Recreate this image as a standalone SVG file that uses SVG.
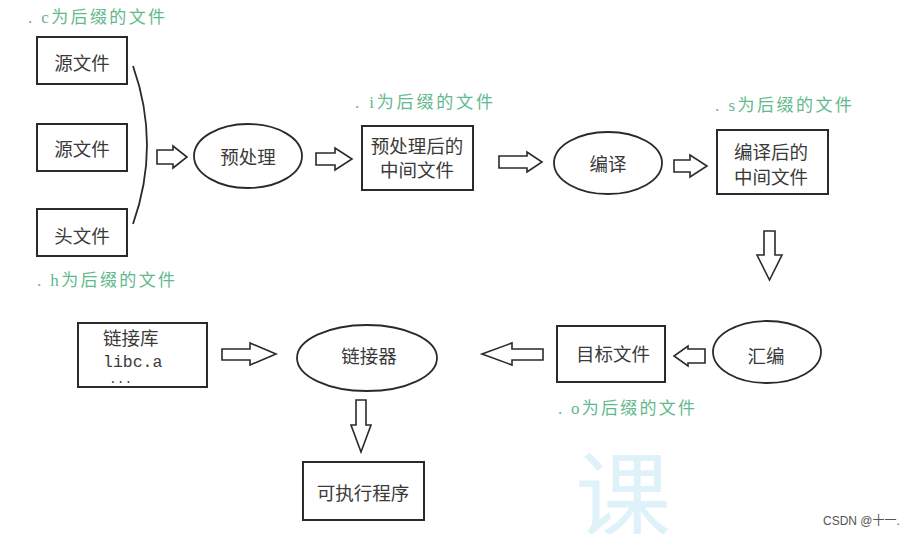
<svg xmlns="http://www.w3.org/2000/svg" width="915" height="534" viewBox="0 0 915 534">
<style>
.box{fill:#fff;stroke:#2a2a2a;stroke-width:2}
.ell{fill:#fff;stroke:#2a2a2a;stroke-width:1.8}
.arr{fill:#fff;stroke:#2a2a2a;stroke-width:1.6;stroke-linejoin:miter}
.lbl{font-family:"Noto Sans CJK SC",sans-serif;font-size:18.5px;fill:#3a3a3a;text-anchor:middle;dominant-baseline:central}
.grn{font-family:"Liberation Serif","Noto Sans CJK SC",serif;font-size:17px;fill:#62b98c}
.mono{font-family:"Liberation Mono","Noto Sans CJK SC",monospace;font-size:16.5px;fill:#3a3a3a}
</style>
<rect width="915" height="534" fill="#fff"/>
<text x="575" y="531" font-family="Noto Sans CJK SC,sans-serif" font-size="96" fill="#dff2fa">课</text>

<g id="label-c"><text class="grn" x="28" y="23" textLength="137" lengthAdjust="spacing">. c为后缀的文件</text></g>
<g id="label-h"><text class="grn" x="37" y="286" textLength="138" lengthAdjust="spacing">. h为后缀的文件</text></g>
<g id="label-i"><text class="grn" x="355" y="108" textLength="138" lengthAdjust="spacing">. i为后缀的文件</text></g>
<g id="label-s"><text class="grn" x="715" y="111" textLength="137" lengthAdjust="spacing">. s为后缀的文件</text></g>
<g id="label-o"><text class="grn" x="558" y="414" textLength="137" lengthAdjust="spacing">. o为后缀的文件</text></g>

<g id="src1"><rect class="box" x="37" y="37" width="90" height="47"/><text class="lbl" x="82" y="62">源文件</text></g>
<g id="src2"><rect class="box" x="37" y="124" width="90" height="47"/><text class="lbl" x="82" y="148">源文件</text></g>
<g id="hdr"><rect class="box" x="37" y="209" width="90" height="47"/><text class="lbl" x="82" y="235">头文件</text></g>

<g id="preprocess"><ellipse class="ell" cx="248" cy="156" rx="54" ry="32"/><text class="lbl" x="248" y="156">预处理</text></g>
<g id="pre-out"><rect class="box" x="362" y="126" width="111" height="64"/><text class="lbl" x="417" y="145">预处理后的</text><text class="lbl" x="417" y="169">中间文件</text></g>
<g id="compile"><ellipse class="ell" cx="608" cy="163" rx="54" ry="31"/><text class="lbl" x="608" y="163">编译</text></g>
<g id="comp-out"><rect class="box" x="717" y="130" width="111" height="64"/><text class="lbl" x="771" y="151">编译后的</text><text class="lbl" x="771" y="176">中间文件</text></g>
<g id="assemble"><ellipse class="ell" cx="767" cy="352" rx="54" ry="31"/><text class="lbl" x="766" y="355">汇编</text></g>
<g id="obj"><rect class="box" x="557" y="326" width="108" height="56"/><text class="lbl" x="613" y="353">目标文件</text></g>
<g id="linker"><ellipse class="ell" cx="367" cy="358" rx="70" ry="33"/><text class="lbl" x="369" y="355">链接器</text></g>
<g id="lib"><rect class="box" x="78" y="323" width="129" height="64"/><text class="lbl" x="103" y="337" style="text-anchor:start">链接库</text><text class="mono" x="103" y="367">libc.a</text><text class="mono" x="109" y="383" style="font-size:13px">...</text></g>
<g id="exe"><rect class="box" x="303" y="462" width="121" height="58"/><text class="lbl" x="363" y="492">可执行程序</text></g>

<g id="connectors">
<path d="M133,66 Q161,145 133,224" fill="none" stroke="#2a2a2a" stroke-width="1.8"/>
<polygon class="arr" points="157,150 173,150 173,146 187,157 173,168 173,164 157,164"/>
<polygon class="arr" points="316,153 335,153 335,148 352,159 335,170 335,165 316,165"/>
<polygon class="arr" points="499,156 527,156 527,152 542,162 527,172 527,168 499,168"/>
<polygon class="arr" points="674,160 690,160 690,155 707,166 690,177 690,172 674,172"/>
<polygon class="arr" points="764,231 764,255 757,255 769.5,280 782,255 775,255 775,231"/>
<polygon class="arr" points="705,349 688,349 688,346 674,356 688,366 688,363 705,363"/>
<polygon class="arr" points="543,349 512,349 512,343 482,354 512,365 512,360 543,360"/>
<polygon class="arr" points="222,349 250,349 250,343 276,354 250,365 250,360 222,360"/>
<polygon class="arr" points="356,400 366,400 366,425 371,425 361,452 351,425 356,425"/>
</g>

<text x="823" y="525" font-family="Liberation Sans,Noto Sans CJK SC,sans-serif" font-size="12" fill="#555">CSDN @十一.</text>
</svg>
